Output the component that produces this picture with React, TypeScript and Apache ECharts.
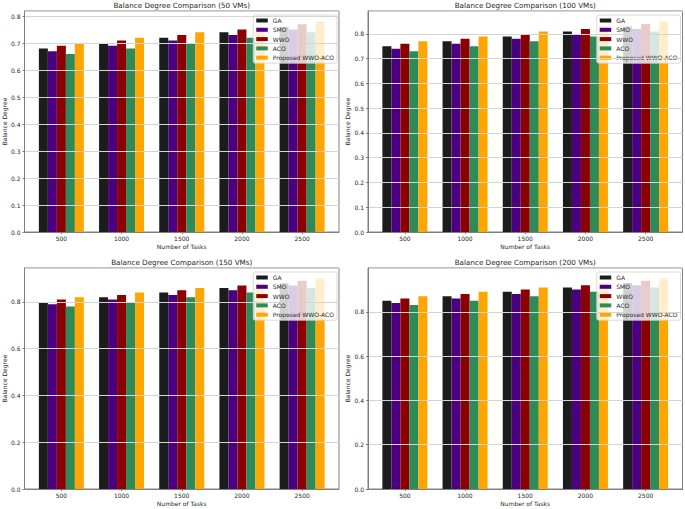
import React, { useEffect, useRef } from "react";
import * as echarts from "echarts";

const tasks = ["500", "1000", "1500", "2000", "2500"];
const algorithms = ["GA", "SMO", "WWO", "ACO", "Proposed WWO-ACO"];
const colors = ["#1c1c1c", "#4b0082", "#8b0000", "#2e8b57", "#ffa500"];
const panelTitles = [
  "Balance Degree Comparison (50 VMs)",
  "Balance Degree Comparison (100 VMs)",
  "Balance Degree Comparison (150 VMs)",
  "Balance Degree Comparison (200 VMs)",
];

// 50 VMs
const ga50 = [0.68, 0.7, 0.72, 0.74, 0.76];
const smo50 = [0.67, 0.69, 0.71, 0.73, 0.75];
const wwo50 = [0.69, 0.71, 0.73, 0.75, 0.77];
const aco50 = [0.66, 0.68, 0.7, 0.72, 0.74];
const prop50 = [0.7, 0.72, 0.74, 0.76, 0.78];
// 100 VMs
const ga100 = [0.75, 0.77, 0.79, 0.81, 0.83];
const smo100 = [0.74, 0.76, 0.78, 0.8, 0.82];
const wwo100 = [0.76, 0.78, 0.8, 0.82, 0.84];
const aco100 = [0.73, 0.75, 0.77, 0.79, 0.81];
const prop100 = [0.77, 0.79, 0.81, 0.83, 0.85];
// 150 VMs
const ga150 = [0.8, 0.82, 0.84, 0.86, 0.88];
const smo150 = [0.79, 0.81, 0.83, 0.85, 0.87];
const wwo150 = [0.81, 0.83, 0.85, 0.87, 0.89];
const aco150 = [0.78, 0.8, 0.82, 0.84, 0.86];
const prop150 = [0.82, 0.84, 0.86, 0.88, 0.9];
// 200 VMs
const ga200 = [0.85, 0.87, 0.89, 0.91, 0.93];
const smo200 = [0.84, 0.86, 0.88, 0.9, 0.92];
const wwo200 = [0.86, 0.88, 0.9, 0.92, 0.94];
const aco200 = [0.83, 0.85, 0.87, 0.89, 0.91];
const prop200 = [0.87, 0.89, 0.91, 0.93, 0.95];

const panelData = [
  [ga50, smo50, wwo50, aco50, prop50],
  [ga100, smo100, wwo100, aco100, prop100],
  [ga150, smo150, wwo150, aco150, prop150],
  [ga200, smo200, wwo200, aco200, prop200],
];
const yIntervals = [0.1, 0.1, 0.2, 0.2];

const FONT = "DejaVu Sans";
const TEXT = "#262626";

export default function App() {
  const ref = useRef<HTMLDivElement>(null);
  useEffect(() => {
    if (!ref.current) return;
    const chart = echarts.init(ref.current, undefined, { renderer: "svg" });

    const W = 314.5;
    const H = 221;
    const lefts = [24.5, 368, 24.5, 368];
    const tops = [11, 11, 268, 268];

    const grids: any[] = [];
    const xAxes: any[] = [];
    const yAxes: any[] = [];
    const titles: any[] = [];
    const legends: any[] = [];
    const series: any[] = [];

    panelData.forEach((groups, p) => {
      const flat = groups.reduce((a, g) => a.concat(g), [] as number[]);
      const yMax = Math.max(...flat) * 1.05;
      grids.push({
        left: lefts[p],
        top: tops[p],
        width: W,
        height: H,
        show: true,
        borderColor: "#808080",
        borderWidth: 1,
        backgroundColor: "transparent",
        containLabel: false,
        outerBoundsMode: "none",
      });
      xAxes.push({
        type: "value",
        gridIndex: p,
        min: -0.6125,
        max: 4.6125,
        z: 10,
        name: "Number of Tasks",
        nameLocation: "middle",
        nameGap: 11,
        nameTextStyle: { fontFamily: FONT, fontSize: 6, color: TEXT, verticalAlign: "top" },
        axisLine: { show: true, onZero: false, lineStyle: { color: "#808080", width: 1 } },
        axisTick: { show: true, length: 2, customValues: [0, 1, 2, 3, 4], lineStyle: { color: "#808080" } },
        axisLabel: {
          show: true,
          customValues: [0, 1, 2, 3, 4],
          formatter: (v: number) => tasks[Math.round(v)] ?? "",
          fontFamily: FONT,
          fontSize: 6,
          color: TEXT,
          margin: 3.5,
        },
        splitLine: { show: false },
      });
      yAxes.push({
        type: "value",
        gridIndex: p,
        min: 0,
        max: yMax,
        interval: yIntervals[p],
        z: 10,
        name: "Balance Degree",
        nameLocation: "middle",
        nameGap: 15,
        nameTextStyle: { fontFamily: FONT, fontSize: 6, color: TEXT },
        axisLine: { show: true, onZero: false, lineStyle: { color: "#808080", width: 1 } },
        axisTick: { show: true, length: 2, lineStyle: { color: "#808080" } },
        axisLabel: {
          fontFamily: FONT,
          fontSize: 6,
          color: TEXT,
          margin: 4,
          showMaxLabel: false,
          formatter: (v: number) => v.toFixed(1),
        },
        splitLine: { show: true, lineStyle: { color: "#d4d4d4", width: 1 } },
      });
      titles.push({
        text: panelTitles[p],
        left: lefts[p] + W / 2,
        top: tops[p] - 9.5,
        textAlign: "center",
        padding: 0,
        textStyle: { fontFamily: FONT, fontSize: 7.2, fontWeight: "normal", color: TEXT },
      });
      legends.push({
        data: algorithms,
        orient: "vertical",
        right: 685 - (lefts[p] + W - 2),
        top: tops[p] + 4,
        icon: "rect",
        itemWidth: 11.5,
        itemHeight: 4,
        itemGap: 2.3,
        padding: [2, 3, 2, 3],
        backgroundColor: "rgba(255,255,255,0.8)",
        borderColor: "#d0d0d0",
        borderWidth: 0.8,
        borderRadius: 2,
        selectedMode: false,
        textStyle: { fontFamily: FONT, fontSize: 6, color: TEXT, lineHeight: 7, padding: [0, 0, 0, 0] },
      });
      groups.forEach((vals, s) => {
        series.push({
          type: "bar",
          name: algorithms[s],
          xAxisIndex: p,
          yAxisIndex: p,
          barWidth: 9,
          barGap: "0%",
          itemStyle: { color: colors[s] },
          data: vals.map((v, i) => [i, v]),
        });
      });
    });

    chart.setOption({
      animation: false,
      backgroundColor: "#ffffff",
      title: titles,
      legend: legends,
      grid: grids,
      xAxis: xAxes,
      yAxis: yAxes,
      series,
    });
    return () => chart.dispose();
  }, []);
  return (
    <div
      ref={ref}
      style={{ position: "fixed", left: 0, top: 0, width: 685, height: 509, background: "#fff" }}
    />
  );
}
